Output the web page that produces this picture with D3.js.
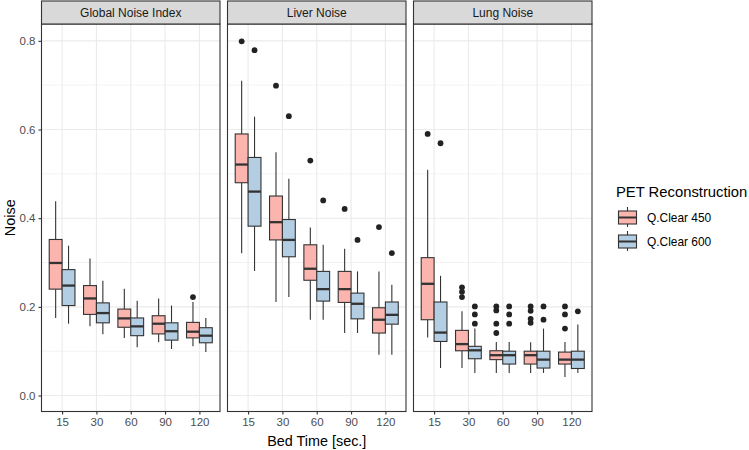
<!DOCTYPE html>
<html><head><meta charset="utf-8">
<script src="https://cdn.jsdelivr.net/npm/d3@7"></script>
<style>body{margin:0;background:#fff}svg{display:block;font-family:"Liberation Sans",Arial,sans-serif}</style>
</head><body><svg id="c" width="749" height="450"></svg>
<script>
const times = ["15","30","60","90","120"];
const seriesNames = ["Q.Clear 450","Q.Clear 600"];
const seriesColors = ["#FBB4AE","#B3CDE3"];
const panelNames = ["Global Noise Index","Liver Noise","Lung Noise"];
const yTicks = [0,0.2,0.4,0.6,0.8];
const yMinor = [0.1,0.3,0.5,0.7];

// [low whisker, Q1, median, Q3, high whisker] per bed time
const globalQ450 = [[0.175,0.240,0.299,0.352,0.438],[0.156,0.183,0.219,0.248,0.309],[0.130,0.154,0.174,0.195,0.241],[0.120,0.139,0.162,0.180,0.219],[0.111,0.130,0.144,0.165,0.211]];
const globalQ600 = [[0.162,0.203,0.248,0.284,0.338],[0.138,0.164,0.186,0.209,0.259],[0.109,0.135,0.156,0.175,0.214],[0.105,0.125,0.145,0.164,0.203],[0.098,0.119,0.135,0.153,0.175]];
const globalQ450Out = [[],[],[],[],[0.222]];
const globalQ600Out = [[],[],[],[],[]];

const liverQ450 = [[0.321,0.480,0.521,0.590,0.710],[0.211,0.351,0.391,0.450,0.549],[0.171,0.260,0.286,0.340,0.379],[0.141,0.210,0.240,0.280,0.331],[0.092,0.141,0.171,0.198,0.280]];
const liverQ600 = [[0.281,0.382,0.460,0.537,0.629],[0.222,0.313,0.351,0.397,0.489],[0.171,0.213,0.240,0.280,0.340],[0.141,0.173,0.207,0.231,0.280],[0.092,0.161,0.182,0.211,0.250]];
const liverQ450Out = [[0.799],[0.699],[0.530],[0.421],[0.380]];
const liverQ600Out = [[0.779],[0.630],[0.440],[0.351],[0.321]];

const lungQ450 = [[0.131,0.171,0.252,0.311,0.509],[0.062,0.101,0.116,0.147,0.190],[0.051,0.081,0.091,0.101,0.121],[0.051,0.071,0.091,0.100,0.120],[0.042,0.071,0.081,0.098,0.121]];
const lungQ600 = [[0.062,0.122,0.142,0.211,0.270],[0.051,0.083,0.102,0.111,0.151],[0.051,0.071,0.091,0.100,0.121],[0.051,0.062,0.081,0.100,0.151],[0.051,0.061,0.081,0.100,0.160]];
const lungQ450Out = [[0.590],[0.244,0.234,0.222],[0.201,0.192,0.162,0.141],[0.201,0.191,0.173,0.164],[0.201,0.183,0.151]];
const lungQ600Out = [[0.569],[0.201,0.183,0.162],[0.201,0.183,0.162],[0.201,0.171],[0.190]];

const panelStats = [[globalQ450,globalQ600],[liverQ450,liverQ600],[lungQ450,lungQ600]];
const panelOut = [[globalQ450Out,globalQ600Out],[liverQ450Out,liverQ600Out],[lungQ450Out,lungQ600Out]];

const svg = d3.select("#c");
const plotTop = 24, plotBottom = 411.5, stripTop = 1;
const panelW = 178.5, gap = 7.5, left0 = 41.5;
const dark = "#333333";

const y = d3.scaleLinear().domain([-0.036, 0.838]).range([plotBottom, plotTop]);
const x = d3.scalePoint().domain(times).range([0, panelW]).padding(0.6);
const step = x.step();
const xs = d3.scaleBand().domain(seriesNames).range([-0.375*step, 0.375*step]);

panelNames.forEach((pn, pi) => {
  const px = left0 + pi*(panelW+gap);
  const g = svg.append("g").attr("transform", `translate(${px},0)`);
  g.selectAll(".ymin").data(yMinor).join("line")
    .attr("x1",0).attr("x2",panelW).attr("y1",d=>y(d)).attr("y2",d=>y(d))
    .attr("stroke","#EBEBEB").attr("stroke-width",0.6);
  g.selectAll(".ymaj").data(yTicks).join("line")
    .attr("x1",0).attr("x2",panelW).attr("y1",d=>y(d)).attr("y2",d=>y(d))
    .attr("stroke","#EBEBEB").attr("stroke-width",1.1);
  g.selectAll(".xmaj").data(times).join("line")
    .attr("x1",d=>x(d)).attr("x2",d=>x(d)).attr("y1",plotTop).attr("y2",plotBottom)
    .attr("stroke","#EBEBEB").attr("stroke-width",1.1);

  seriesNames.forEach((sn, si) => {
    const stats = panelStats[pi][si];
    const outs = panelOut[pi][si];
    const bw = xs.bandwidth();
    const gs = g.append("g");
    times.forEach((t, ti) => {
      const s = stats[ti];
      const cx = x(t) + xs(sn) + bw/2;
      const x0 = x(t) + xs(sn);
      gs.append("line").attr("x1",cx).attr("x2",cx).attr("y1",y(s[4])).attr("y2",y(s[3]))
        .attr("stroke",dark).attr("stroke-width",1.1);
      gs.append("line").attr("x1",cx).attr("x2",cx).attr("y1",y(s[1])).attr("y2",y(s[0]))
        .attr("stroke",dark).attr("stroke-width",1.1);
      gs.append("rect").attr("x",x0).attr("width",bw).attr("y",y(s[3])).attr("height",y(s[1])-y(s[3]))
        .attr("fill",seriesColors[si]).attr("stroke",dark).attr("stroke-width",1.1);
      gs.append("line").attr("x1",x0).attr("x2",x0+bw).attr("y1",y(s[2])).attr("y2",y(s[2]))
        .attr("stroke",dark).attr("stroke-width",2.3);
      outs[ti].forEach(v => {
        gs.append("circle").attr("cx",cx).attr("cy",y(v)).attr("r",2.9).attr("fill","#222");
      });
    });
  });

  g.append("rect").attr("x",0).attr("y",plotTop).attr("width",panelW).attr("height",plotBottom-plotTop)
    .attr("fill","none").attr("stroke",dark).attr("stroke-width",1.1);
  g.append("rect").attr("x",0).attr("y",stripTop).attr("width",panelW).attr("height",plotTop-stripTop)
    .attr("fill","#D9D9D9").attr("stroke",dark).attr("stroke-width",1.1);
  g.append("text").attr("x",panelW/2).attr("y",(stripTop+plotTop)/2).attr("dy","0.35em")
    .attr("text-anchor","middle").attr("font-size",12).attr("fill","#1A1A1A").text(pn);

  const xa = g.append("g").attr("transform",`translate(0,${plotBottom})`)
    .call(d3.axisBottom(x).tickSize(3).tickPadding(3));
  xa.select(".domain").remove();
  xa.selectAll(".tick line").attr("stroke",dark).attr("stroke-width",1.1);
  xa.selectAll(".tick text").attr("fill","#4D4D4D").attr("font-size",11.5)
    .attr("font-family","Liberation Sans, Arial, sans-serif");

  if (pi === 0) {
    const ya = g.append("g").call(d3.axisLeft(y).tickValues(yTicks).tickFormat(d3.format(".1f")).tickSize(3).tickPadding(3));
    ya.select(".domain").remove();
    ya.selectAll(".tick line").attr("stroke",dark).attr("stroke-width",1.1);
    ya.selectAll(".tick text").attr("fill","#4D4D4D").attr("font-size",11.5)
      .attr("font-family","Liberation Sans, Arial, sans-serif");
  }
});

const totalRight = left0 + 3*panelW + 2*gap;
svg.append("text").attr("x",(left0+totalRight)/2).attr("y",441).attr("dy","0.35em")
  .attr("text-anchor","middle").attr("font-size",14.4).attr("fill","#000").text("Bed Time [sec.]");
svg.append("text").attr("transform",`translate(10,${(plotTop+plotBottom)/2}) rotate(-90)`).attr("dy","0.35em")
  .attr("text-anchor","middle").attr("font-size",14.4).attr("fill","#000").text("Noise");

const lg = svg.append("g");
lg.append("text").attr("x",616).attr("y",196.5).attr("font-size",14.8).attr("fill","#000").text("PET Reconstruction");
seriesNames.forEach((sn, i) => {
  const ky = 207 + i*24;
  const kg = lg.append("g").attr("transform",`translate(618,${ky})`);
  kg.append("line").attr("x1",9.5).attr("x2",9.5).attr("y1",0).attr("y2",20).attr("stroke",dark).attr("stroke-width",1.1);
  kg.append("rect").attr("x",0.5).attr("y",4).attr("width",18).attr("height",13)
    .attr("fill",seriesColors[i]).attr("stroke",dark).attr("stroke-width",1.1);
  kg.append("line").attr("x1",0.5).attr("x2",18.5).attr("y1",10.5).attr("y2",10.5).attr("stroke",dark).attr("stroke-width",2);
  lg.append("text").attr("x",647).attr("y",ky+10.5).attr("dy","0.35em").attr("font-size",11.9).attr("fill","#000").text(sn);
});
</script></body></html>
